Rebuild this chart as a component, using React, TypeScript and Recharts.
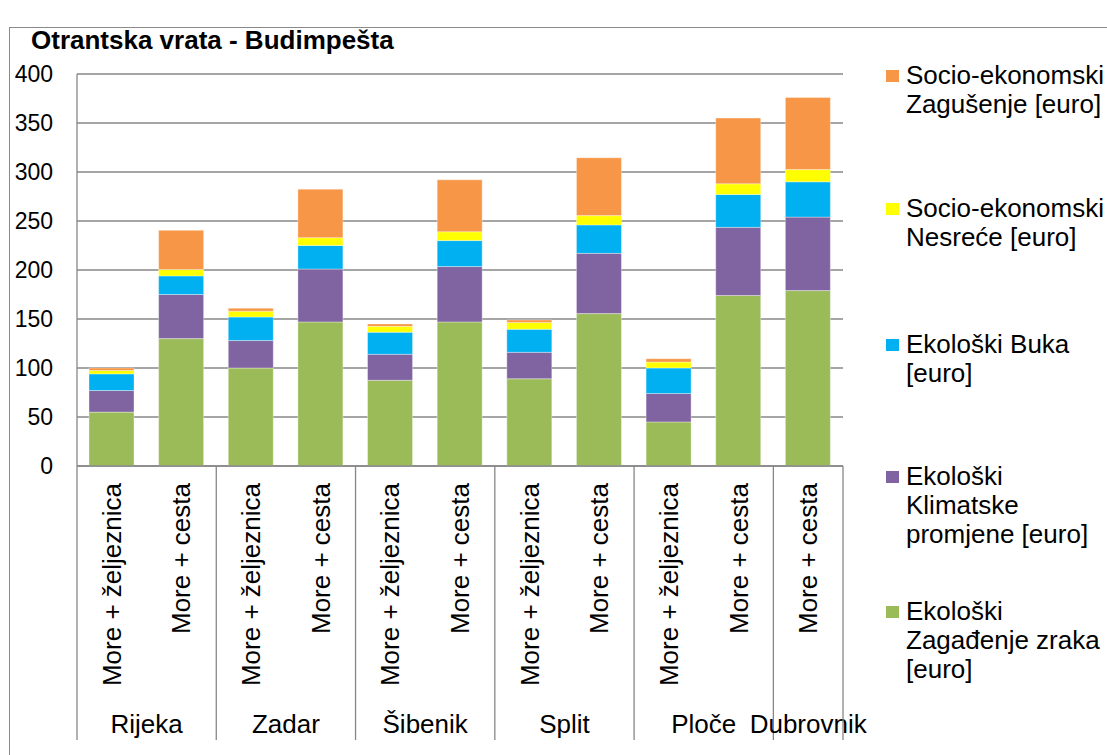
import React from 'react';
import { BarChart, Bar, XAxis, YAxis, CartesianGrid } from 'recharts';

// ---------- DATA ----------
const modes = [
  'More + željeznica', 'More + cesta',
  'More + željeznica', 'More + cesta',
  'More + željeznica', 'More + cesta',
  'More + željeznica', 'More + cesta',
  'More + željeznica', 'More + cesta',
  'More + cesta',
];
const cities = ['Rijeka', 'Zadar', 'Šibenik', 'Split', 'Ploče', 'Dubrovnik'];
const cityBarCounts = [2, 2, 2, 2, 2, 1];

const zagadjenjeZraka = [55, 130, 100, 147, 87.5, 147, 89, 155.5, 45, 174, 179];
const klimatskePromjene = [22, 45, 28, 54, 26.5, 56.5, 27, 61.5, 29, 69.5, 75];
const buka = [17, 19, 24, 24, 22.5, 26.5, 23.5, 29, 26, 33.5, 36];
const nesrece = [3.5, 6.5, 6, 8, 6, 9, 7, 9.5, 6, 11, 12.5];
const zagusenje = [2.5, 40, 3, 49.5, 2.5, 53, 2.5, 59, 3.5, 67, 73.5];

const yTicks = [0, 50, 100, 150, 200, 250, 300, 350, 400];
const title = 'Otrantska vrata - Budimpešta';

// legend order top -> bottom
const legendKeys = ['zagusenje', 'nesrece', 'buka', 'klima', 'zrak'];
const legendNames = [
  'Socio-ekonomski\nZagušenje [euro]',
  'Socio-ekonomski\nNesreće [euro]',
  'Ekološki Buka\n[euro]',
  'Ekološki\nKlimatske\npromjene [euro]',
  'Ekološki\nZagađenje zraka\n[euro]',
];
const colors: Record<string, string> = {
  zrak: '#9BBB59',
  klima: '#8064A2',
  buka: '#00B0F0',
  nesrece: '#FFFF00',
  zagusenje: '#F79646',
};
// stack order bottom -> top
const stackKeys = ['zrak', 'klima', 'buka', 'nesrece', 'zagusenje'];

const data = modes.map((m, i) => ({
  mode: m,
  zrak: zagadjenjeZraka[i],
  klima: klimatskePromjene[i],
  buka: buka[i],
  nesrece: nesrece[i],
  zagusenje: zagusenje[i],
}));

// ---------- LAYOUT / STYLE ----------
const FONT = '"Liberation Sans", Arial, Helvetica, sans-serif';
const W = 1107;
const H = 755;
const MARGIN = { top: 74, right: 264, bottom: 0, left: 17 };
const Y_W = 60;
const X_H = 289;
const AXIS_Y = H - MARGIN.bottom - X_H;
const BAND = (W - MARGIN.left - Y_W - MARGIN.right) / modes.length;
const GRID = '#878787';
const SEP_BOTTOM = 740;
const legendBaselines = [84, 217, 353, 485, 620];

const groupStarts: Record<number, number> = {};
{
  let idx = 0;
  cityBarCounts.forEach((c, g) => {
    groupStarts[idx] = g;
    idx += c;
  });
}

const CategoryTick = (props: any) => {
  const { x, payload } = props;
  const i: number = payload && payload.index != null ? payload.index : props.index;
  const ty = AXIS_Y + 17;
  const parts: React.ReactNode[] = [];
  parts.push(
    <text
      key="lbl"
      x={x}
      y={ty}
      transform={`rotate(-90 ${x} ${ty})`}
      textAnchor="end"
      dominantBaseline="central"
      fontSize={26}
      fontFamily={FONT}
      fill="#000"
    >
      {payload.value}
    </text>
  );
  if (groupStarts[i] !== undefined) {
    const g = groupStarts[i];
    const left = x - BAND / 2;
    parts.push(
      <line key="sep" x1={left} x2={left} y1={AXIS_Y} y2={SEP_BOTTOM} stroke={GRID} strokeWidth={1.3} />
    );
    parts.push(
      <text
        key="grp"
        x={left + (cityBarCounts[g] * BAND) / 2}
        y={724}
        textAnchor="middle"
        dominantBaseline="central"
        fontSize={26}
        fontFamily={FONT}
        fill="#000"
      >
        {cities[g]}
      </text>
    );
  }
  if (i === modes.length - 1) {
    const right = x + BAND / 2;
    parts.push(
      <line key="end" x1={right} x2={right} y1={AXIS_Y} y2={SEP_BOTTOM} stroke={GRID} strokeWidth={1.3} />
    );
  }
  return <g>{parts}</g>;
};

export default function App() {
  return (
    <div
      style={{
        position: 'absolute',
        left: 0,
        top: 0,
        width: W,
        height: H,
        background: '#fff',
        overflow: 'hidden',
        fontFamily: FONT,
      }}
    >
      {/* frame */}
      <div
        style={{
          position: 'absolute',
          left: 9,
          top: 27,
          width: W,
          height: H,
          borderLeft: '1.5px solid #8a8a8a',
          borderTop: '1.5px solid #8a8a8a',
        }}
      />
      <div style={{ position: 'absolute', left: 0, top: 0 }}>
        <BarChart width={W} height={H} data={data} margin={MARGIN} barSize={45}>
          <CartesianGrid vertical={false} stroke={GRID} strokeWidth={1.3} />
          <XAxis
            dataKey="mode"
            height={X_H}
            interval={0}
            tickLine={false}
            tickSize={0}
            axisLine={{ stroke: GRID, strokeWidth: 1.3 }}
            tick={<CategoryTick />}
          />
          <YAxis
            width={Y_W}
            domain={[0, 400]}
            ticks={yTicks}
            interval={0}
            tickLine={false}
            tickSize={0}
            tickMargin={24}
            axisLine={{ stroke: GRID, strokeWidth: 1.3 }}
            tick={{ fontSize: 23, fill: '#000', fontFamily: FONT }}
          />
          {stackKeys.map((k) => (
            <Bar
              key={k}
              dataKey={k}
              stackId="a"
              fill={colors[k]}
              stroke="#ffffff"
              strokeOpacity={0.35}
              strokeWidth={1}
              isAnimationActive={false}
            />
          ))}
        </BarChart>
      </div>
      {/* title */}
      <div
        style={{
          position: 'absolute',
          left: 31,
          top: 27,
          fontSize: 26,
          lineHeight: '26px',
          fontWeight: 'bold',
          color: '#000',
          whiteSpace: 'nowrap',
        }}
      >
        {title}
      </div>
      {/* legend */}
      {legendKeys.map((k, i) => (
        <React.Fragment key={k}>
          <div
            style={{
              position: 'absolute',
              left: 886,
              top: legendBaselines[i] - 14.5,
              width: 13,
              height: 12,
              background: colors[k],
            }}
          />
          <div
            style={{
              position: 'absolute',
              left: 906,
              top: legendBaselines[i] - 23.5,
              fontSize: 26,
              lineHeight: '29px',
              whiteSpace: 'pre',
              color: '#000',
            }}
          >
            {legendNames[i]}
          </div>
        </React.Fragment>
      ))}
    </div>
  );
}
